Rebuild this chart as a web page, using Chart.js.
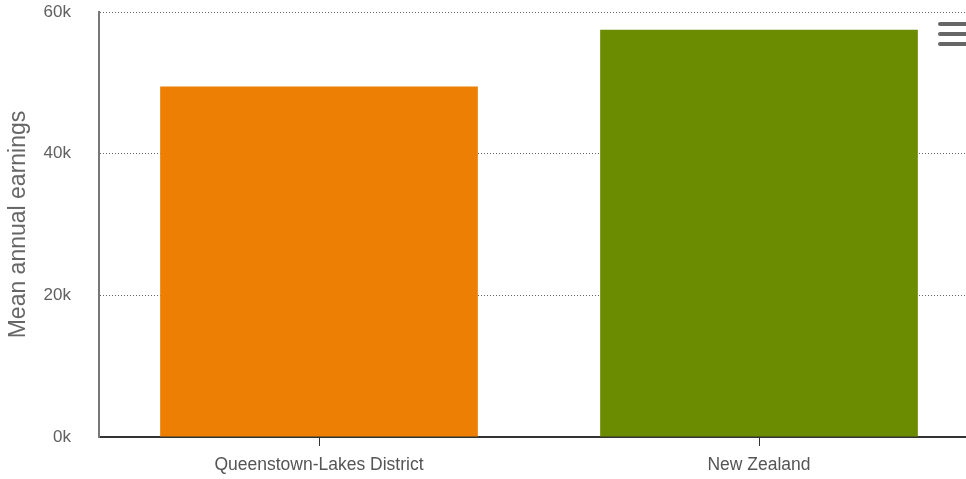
<!DOCTYPE html>
<html>
<head>
<meta charset="utf-8">
<script src="https://cdn.jsdelivr.net/npm/chart.js@4"></script>
<style>
  html, body { margin: 0; padding: 0; background: #fff; overflow: hidden; }
  #wrap { position: absolute; left: 0; top: 0; width: 985px; height: 479px; }
</style>
</head>
<body>
<div id="wrap"><canvas id="earningsChart" width="985" height="479"></canvas></div>
<script>
// data
const regions = ["Queenstown-Lakes District", "New Zealand"];
const meanEarnings = [49500, 57500];
const barColors = ["#ec7f04", "#6b8b00"];
const yTicks = [0, 20000, 40000, 60000];

const FONT = "'Liberation Sans', Arial, sans-serif";

// little three-bar menu icon in the top right corner
const menuIcon = {
  id: "menuIcon",
  afterDraw(chart) {
    const ctx = chart.ctx;
    ctx.save();
    ctx.strokeStyle = "#666";
    ctx.lineWidth = 4;
    ctx.lineCap = "round";
    [24, 34, 44].forEach(y => {
      ctx.beginPath();
      ctx.moveTo(940, y);
      ctx.lineTo(975, y);
      ctx.stroke();
    });
    ctx.restore();
  }
};

new Chart(document.getElementById("earningsChart"), {
  type: "bar",
  data: {
    labels: regions,
    datasets: [{
      label: "Mean annual earnings",
      data: meanEarnings,
      backgroundColor: barColors,
      barPercentage: 0.722,
      categoryPercentage: 1
    }]
  },
  options: {
    responsive: false,
    animation: false,
    layout: { padding: { top: 12, right: 6, left: 1, bottom: 0 } },
    plugins: {
      legend: { display: false },
      tooltip: { enabled: false }
    },
    scales: {
      x: {
        offset: true,
        afterFit(scale) {
          scale.height = scale.height - 6;
        },
        grid: {
          offset: false,
          drawOnChartArea: false,
          drawTicks: true,
          tickLength: 9,
          tickColor: "#333",
          tickWidth: 1
        },
        border: { display: true, color: "#333", width: 2 },
        ticks: {
          color: "#555",
          font: { family: FONT, size: 17.5 },
          padding: 9
        }
      },
      y: {
        min: 0,
        max: 60000,
        afterBuildTicks(scale) {
          scale.ticks = yTicks.map(v => ({ value: v }));
        },
        afterFit(scale) {
          scale.width = 98;
          scale.paddingTop = 0;
          scale.paddingBottom = 0;
        },
        grid: {
          drawTicks: false,
          color: ctx => ctx.tick && ctx.tick.value === 0 ? "rgba(0,0,0,0)" : "#666",
          lineWidth: 1
        },
        // dotted grid lines, solid axis line
        border: { display: true, color: "#777", width: 2, dash: [1, 2] },
        ticks: {
          color: "#606060",
          font: { family: FONT, size: 17 },
          padding: 28,
          callback: v => (v / 1000) + "k"
        },
        title: {
          display: true,
          text: "Mean annual earnings",
          color: "#666",
          font: { family: FONT, size: 23 },
          padding: { top: 4, bottom: 0 }
        }
      }
    }
  },
  plugins: [menuIcon]
});
</script>
</body>
</html>
